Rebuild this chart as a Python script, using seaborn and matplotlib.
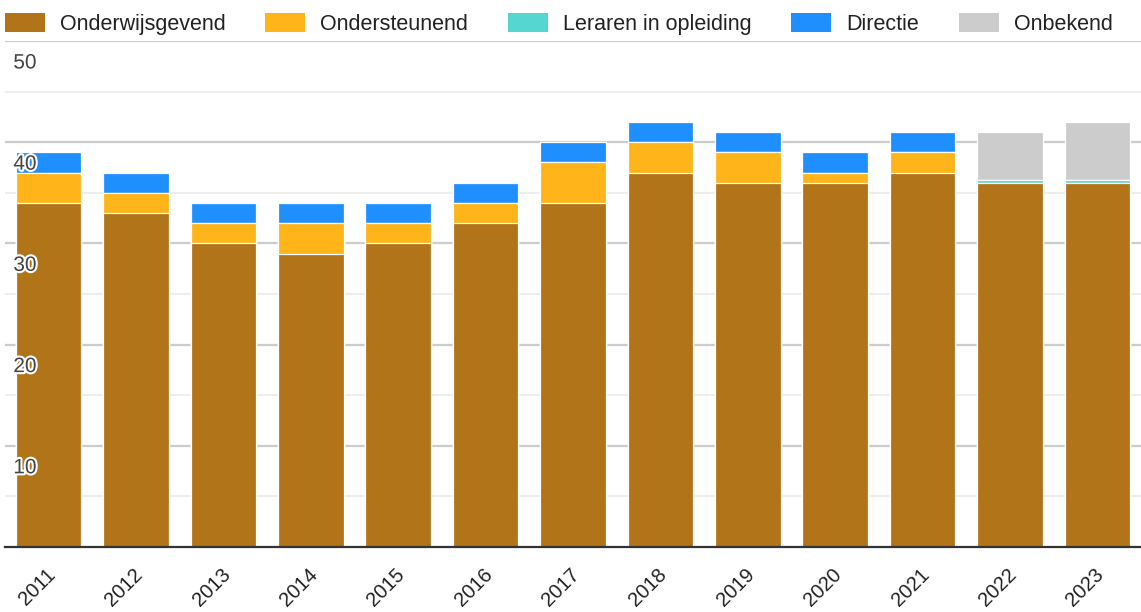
import matplotlib
matplotlib.use("Agg")
import matplotlib.pyplot as plt
import matplotlib.patheffects as pe
import matplotlib.transforms as mtransforms
from matplotlib.patches import Patch
import pandas as pd
import seaborn as sns

years = ["2011", "2012", "2013", "2014", "2015", "2016", "2017",
         "2018", "2019", "2020", "2021", "2022", "2023"]
onderwijsgevend = [34, 33, 30, 29, 30, 32, 34, 37, 36, 36, 37, 36, 36]
ondersteunend = [3, 2, 2, 3, 2, 2, 4, 3, 3, 1, 2, 0, 0]
leraren = [0, 0, 0, 0, 0, 0, 0, 0, 0, 0, 0, 0.3, 0.3]
directie = [2, 2, 2, 2, 2, 2, 2, 2, 2, 2, 2, 0, 0]
onbekend = [0, 0, 0, 0, 0, 0, 0, 0, 0, 0, 0, 4.7, 5.7]

series_names = ["Onderwijsgevend", "Ondersteunend", "Leraren in opleiding",
                "Directie", "Onbekend"]
series_colors = ["#B17418", "#FFB419", "#55D6D0", "#1F8FFF", "#CCCCCC"]
y_ticks = [10, 20, 30, 40, 50]

sns.set_theme(style="white")
plt.rcParams["font.family"] = ["Liberation Sans", "DejaVu Sans"]

df = pd.DataFrame({
    "year": years,
    series_names[0]: onderwijsgevend,
    series_names[1]: ondersteunend,
    series_names[2]: leraren,
    series_names[3]: directie,
    series_names[4]: onbekend,
})
cum = df[series_names].cumsum(axis=1)

fig = plt.figure(figsize=(11.41, 6.12), dpi=100)
ax = fig.add_axes([5 / 1141, 65 / 612, 1136 / 1141, 506 / 612])

# stacked bars: draw cumulative totals from top layer down
for name, color in reversed(list(zip(series_names, series_colors))):
    sns.barplot(x=df["year"], y=cum[name], color=color, width=0.75,
                edgecolor="white", linewidth=0.9, errorbar=None,
                saturation=1, ax=ax, zorder=3)

ax.set_ylim(0, 50)
ax.set_xlim(-0.5, len(years) - 0.5)
ax.set_yticks(y_ticks)
ax.set_yticks([5, 15, 25, 35, 45], minor=True)
ax.set_yticklabels([])
ax.tick_params(axis="y", which="both", length=0)
ax.grid(axis="y", which="major", color="#CCCCCC", linewidth=1.6, zorder=0)
ax.grid(axis="y", which="minor", color="#EBEBEB", linewidth=1.2, zorder=0)
ax.set_axisbelow(True)

for s in ["top", "left", "right"]:
    ax.spines[s].set_visible(False)
ax.spines["bottom"].set_color("#333333")
ax.spines["bottom"].set_linewidth(1.6)
ax.spines["bottom"].set_zorder(5)

ax.set_xlabel("")
ax.set_ylabel("")
ax.tick_params(axis="x", length=0, pad=13, labelsize=14.5, labelcolor="#222222")
shift = mtransforms.ScaledTranslation(-3 / 100, 0, fig.dpi_scale_trans)
for lab in ax.get_xticklabels():
    lab.set_rotation(45)
    lab.set_ha("right")
    lab.set_va("top")
    lab.set_rotation_mode("anchor")
    lab.set_transform(lab.get_transform() + shift)

for v in y_ticks:
    ax.annotate(str(v), xy=(0, v), xycoords=("axes fraction", "data"),
                xytext=(6, -9), textcoords="offset points",
                ha="left", va="top", fontsize=15, color="#444444", zorder=6,
                path_effects=[pe.withStroke(linewidth=3, foreground="white")])

handles = [Patch(facecolor=c, edgecolor="none") for c in series_colors]
fig.legend(handles, series_names, loc="upper left",
           bbox_to_anchor=(5 / 1141, 1 - 13 / 612), ncol=5, frameon=False,
           fontsize=15.5, handlelength=1.85, handleheight=1.0,
           handletextpad=0.7, columnspacing=1.85, borderpad=0,
           borderaxespad=0, labelcolor="#222222")

fig.savefig("out.png", dpi=100)
